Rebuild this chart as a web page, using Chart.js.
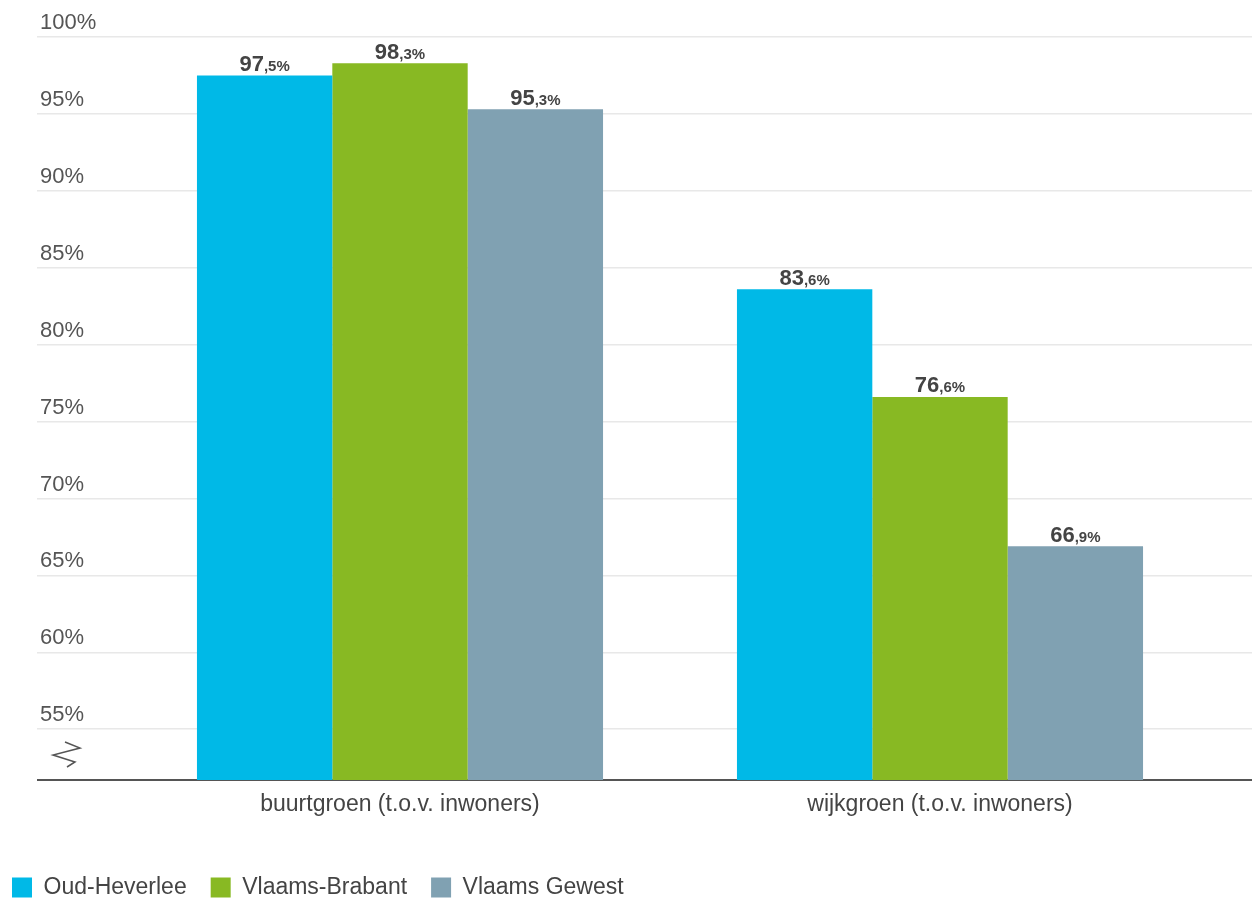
<!DOCTYPE html>
<html>
<head>
<meta charset="utf-8">
<script src="https://cdn.jsdelivr.net/npm/chart.js@4/dist/chart.umd.min.js"></script>
<style>
  html, body { margin: 0; padding: 0; background: #fff; }
  #wrap { width: 1252px; height: 899px; position: relative; }
</style>
</head>
<body>
<div id="wrap"><canvas id="chart"></canvas></div>
<script>
// data
const categories = ['buurtgroen (t.o.v. inwoners)', 'wijkgroen (t.o.v. inwoners)'];
const seriesNames = ['Oud-Heverlee', 'Vlaams-Brabant', 'Vlaams Gewest'];
const oudHeverlee = [97.5, 83.6];
const vlaamsBrabant = [98.3, 76.6];
const vlaamsGewest = [95.3, 66.9];
const yTicks = [55, 60, 65, 70, 75, 80, 85, 90, 95, 100];
const yMin = 51.7;
const yMax = 100;

const colors = ['#00b9e7', '#88b923', '#80a1b2'];
const fontFamily = '"Liberation Sans", Arial, Helvetica, sans-serif';

function setTicks(axis) {
    axis.ticks = [yMin].concat(yTicks).map(function (v) { return { value: v }; });
}

function gridColor(ctx) {
    return ctx.tick && ctx.tick.value === yMin ? '#555' : '#e8e8e8';
}
function gridWidth(ctx) {
    return ctx.tick && ctx.tick.value === yMin ? 2 : 1.5;
}

// bold value labels: big integer part, small ",x%" part
const valueLabels = {
    id: 'valueLabels',
    afterDatasetsDraw(chart) {
        const ctx = chart.ctx;
        ctx.save();
        ctx.fillStyle = '#444';
        ctx.textBaseline = 'alphabetic';
        ctx.textAlign = 'left';
        chart.data.datasets.forEach(function (ds, i) {
            chart.getDatasetMeta(i).data.forEach(function (bar, j) {
                const parts = ds.data[j].toFixed(1).split('.');
                const big = parts[0];
                const small = ',' + parts[1] + '%';
                ctx.font = 'bold 22px ' + fontFamily;
                const wBig = ctx.measureText(big).width;
                ctx.font = 'bold 15px ' + fontFamily;
                const wSmall = ctx.measureText(small).width;
                const x0 = bar.x - (wBig + wSmall) / 2;
                const y0 = bar.y - 4.5;
                ctx.font = 'bold 22px ' + fontFamily;
                ctx.fillText(big, x0, y0);
                ctx.font = 'bold 15px ' + fontFamily;
                ctx.fillText(small, x0 + wBig, y0);
            });
        });
        ctx.restore();
    }
};

// axis break mark and legend placement
const extras = {
    id: 'extras',
    afterLayout(chart) {
        chart.legend.left -= 12;
        chart.legend.right -= 12;
        chart.legend.top += 10;
        chart.legend.bottom += 10;
    },
    afterDraw(chart) {
        const ctx = chart.ctx;
        const yb = chart.scales.y.getPixelForValue(yMin);
        ctx.save();
        ctx.strokeStyle = '#555';
        ctx.lineWidth = 1.5;
        ctx.beginPath();
        ctx.moveTo(65, yb - 38);
        ctx.lineTo(80, yb - 32);
        ctx.lineTo(53, yb - 25);
        ctx.lineTo(75, yb - 18);
        ctx.lineTo(67, yb - 13);
        ctx.stroke();
        ctx.restore();
    }
};

new Chart(document.getElementById('chart'), {
    type: 'bar',
    data: {
        labels: categories,
        datasets: [
            { label: seriesNames[0], data: oudHeverlee, backgroundColor: colors[0] },
            { label: seriesNames[1], data: vlaamsBrabant, backgroundColor: colors[1] },
            { label: seriesNames[2], data: vlaamsGewest, backgroundColor: colors[2] }
        ]
    },
    options: {
        responsive: true,
        maintainAspectRatio: false,
        animation: false,
        categoryPercentage: 0.752,
        barPercentage: 1,
        borderWidth: 0,
        layout: { padding: { top: 37, left: 0, right: 0, bottom: 0 } },
        scales: {
            x: {
                grid: { display: false, drawTicks: false },
                border: { display: false },
                ticks: {
                    color: '#444',
                    padding: 11,
                    font: { family: fontFamily, size: 23 }
                },
                afterFit(axis) { axis.height = 62; }
            },
            y: {
                position: 'left',
                weight: 0,
                min: yMin,
                max: yMax,
                afterBuildTicks: setTicks,
                grid: { color: gridColor, lineWidth: gridWidth, tickLength: 93 },
                border: { display: false },
                ticks: {
                    color: '#555',
                    crossAlign: 'far',
                    labelOffset: -14,
                    font: { family: fontFamily, size: 22 },
                    callback: function (v) { return v === yMin ? '' : v + '%'; }
                },
                afterFit(axis) { axis.width = 90; }
            },
            yPad: {
                type: 'linear',
                position: 'left',
                weight: 1,
                grid: { display: false, drawTicks: false },
                border: { display: false },
                ticks: { display: false },
                afterFit(axis) { axis.width = 40; }
            },
            yR: {
                type: 'linear',
                position: 'right',
                min: yMin,
                max: yMax,
                afterBuildTicks: setTicks,
                grid: { color: gridColor, lineWidth: gridWidth, tickLength: 42, drawOnChartArea: false },
                border: { display: false },
                ticks: { display: false },
                afterFit(axis) { axis.width = 42; }
            }
        },
        plugins: {
            tooltip: { enabled: false },
            legend: {
                position: 'bottom',
                align: 'start',
                labels: {
                    boxWidth: 20,
                    boxHeight: 20,
                    padding: 24,
                    color: '#444',
                    font: { family: fontFamily, size: 23 }
                }
            }
        }
    },
    plugins: [valueLabels, extras]
});
</script>
</body>
</html>
